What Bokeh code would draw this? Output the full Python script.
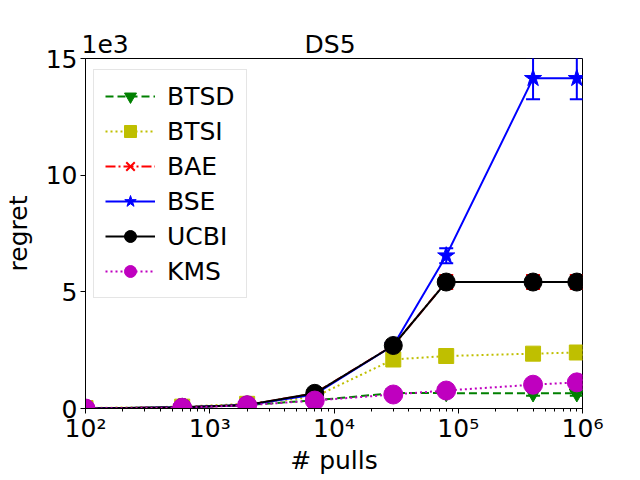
from bokeh.plotting import figure
from bokeh.models import (ColumnDataSource, Legend, LegendItem, FixedTicker, LogTicker,
                          CustomJSTickFormatter, LogAxis)
from bokeh.embed import file_html
from bokeh.resources import INLINE

pulls = [100, 600, 2000, 7000, 30000, 80000, 400000, 900000]
names = ["BTSD", "BTSI", "BAE", "BSE", "UCBI", "KMS"]
regret = {
    "BTSD": [0.0, 0.05, 0.15, 0.35, 0.66, 0.66, 0.65, 0.65],
    "BTSI": [0.02, 0.08, 0.2, 0.5, 2.1, 2.25, 2.35, 2.4],
    "BAE":  [0.0, 0.05, 0.15, 0.65, 2.7, 5.42, 5.42, 5.42],
    "BSE":  [0.0, 0.05, 0.15, 0.6, 2.7, 6.55, 14.15, 14.15],
    "UCBI": [0.0, 0.05, 0.15, 0.65, 2.7, 5.42, 5.42, 5.42],
    "KMS":  [0.0, 0.03, 0.14, 0.34, 0.6, 0.77, 1.02, 1.12],
}
errors = {
    "BTSD": [0.0, 0.01, 0.02, 0.05, 0.15, 0.1, 0.1, 0.1],
    "BTSI": [0.01, 0.02, 0.03, 0.05, 0.1, 0.1, 0.1, 0.1],
    "BAE":  [0.0, 0.01, 0.02, 0.05, 0.2, 0.3, 0.3, 0.3],
    "BSE":  [0.0, 0.01, 0.02, 0.05, 0.1, 0.32, 0.9, 0.9],
    "UCBI": [0.0, 0.01, 0.02, 0.05, 0.1, 0.15, 0.15, 0.15],
    "KMS":  [0.0, 0.01, 0.02, 0.04, 0.08, 0.1, 0.1, 0.1],
}
y_ticks = [0, 5, 10, 15]
title_text = "DS5"
y_scale_text = "1e3"

styles = {
    "BTSD": dict(color="#008000", dash="8 4", marker="inverted_triangle", size=15),
    "BTSI": dict(color="#bfbf00", dash="2 3", marker="square", size=15),
    "BAE":  dict(color="#ff0000", dash="10 3 2 3", marker="x", size=15),
    "BSE":  dict(color="#0000ff", dash="solid", marker="star", size=18),
    "UCBI": dict(color="#000000", dash="solid", marker="circle", size=18),
    "KMS":  dict(color="#bf00bf", dash="2 3", marker="circle", size=19),
}

FONT = "DejaVu Sans"

p = figure(frame_width=497, frame_height=350, x_axis_type="log", x_range=(1e2, 1e6), y_range=(0, 15),
           output_backend="svg", toolbar_location=None,
           min_border_left=72, min_border_right=55, min_border_top=58, min_border_bottom=64)
p.title.visible = False

items = []
for n in names:
    st = styles[n]
    ys = regret[n]
    es = errors[n]
    src = ColumnDataSource(dict(x=pulls, y=ys,
                                lo=[a - b for a, b in zip(ys, es)],
                                hi=[a + b for a, b in zip(ys, es)]))
    p.segment(x0="x", y0="lo", x1="x", y1="hi", source=src, line_color=st["color"], line_width=2)
    p.scatter(x="x", y="lo", source=src, marker="dash", size=14, line_color=st["color"], line_width=2)
    p.scatter(x="x", y="hi", source=src, marker="dash", size=14, line_color=st["color"], line_width=2)
    lr = p.line(x="x", y="y", source=src, line_color=st["color"], line_width=2, line_dash=st["dash"])
    if st["marker"] == "x":
        sr = p.scatter(x="x", y="y", source=src, marker="x", size=st["size"],
                       line_color=st["color"], line_width=2)
    else:
        sr = p.scatter(x="x", y="y", source=src, marker=st["marker"], size=st["size"],
                       fill_color=st["color"], line_color=st["color"], line_width=1)
    items.append(LegendItem(label=n, renderers=[lr, sr]))

legend = Legend(items=items, location=(8, 110))
legend.padding = 11
legend.spacing = 5
legend.glyph_width = 50
legend.glyph_height = 30
legend.label_height = 30
legend.label_standoff = 12
legend.label_text_font = FONT
legend.label_text_font_size = "25px"
legend.label_text_color = "black"
legend.border_line_color = "#cccccc"
legend.border_line_width = 1
legend.background_fill_alpha = 0.8
p.add_layout(legend, "center")

p.xgrid.visible = False
p.ygrid.visible = False
p.outline_line_color = "black"
p.outline_line_width = 1

p.xaxis.ticker = LogTicker(num_minor_ticks=10)
p.xaxis.formatter = CustomJSTickFormatter(code="""
const sup = {'0':'\u2070','1':'\u00b9','2':'\u00b2','3':'\u00b3','4':'\u2074','5':'\u2075','6':'\u2076','7':'\u2077','8':'\u2078','9':'\u2079'};
const e = Math.round(Math.log10(tick));
return '10' + String(e).split('').map(c => sup[c]).join('');
""")
p.yaxis.ticker = FixedTicker(ticks=y_ticks, minor_ticks=[])

for ax in (p.xaxis[0], p.yaxis[0]):
    ax.major_label_text_font = FONT
    ax.major_label_text_font_size = "25px"
    ax.major_label_text_color = "black"
    ax.axis_label_text_font = FONT
    ax.axis_label_text_font_size = "25px"
    ax.axis_label_text_font_style = "normal"
    ax.axis_label_text_color = "black"
    ax.major_tick_in = 0
    ax.major_tick_out = 5
    ax.minor_tick_in = 0
    ax.minor_tick_out = 3
    ax.axis_line_color = "black"
    ax.major_tick_line_color = "black"
    ax.minor_tick_line_color = "black"

p.xaxis.major_label_standoff = 0
p.yaxis.major_label_standoff = 3
p.xaxis.axis_label = "# pulls"
p.yaxis.axis_label = "regret"
p.xaxis.axis_label_standoff = 0
p.yaxis.axis_label_standoff = 10

# top "axis" used only to place the title and the y-scale text above the frame
top = LogAxis(ticker=FixedTicker(ticks=[144, 9300], minor_ticks=[]),
              major_label_overrides={144: y_scale_text, 9300: title_text})
top.axis_line_color = None
top.major_tick_line_color = None
top.minor_tick_line_color = None
top.major_tick_out = 0
top.major_tick_in = 0
top.major_label_standoff = 0
top.major_label_text_font = FONT
top.major_label_text_font_size = "25px"
top.major_label_text_color = "black"
p.add_layout(top, "above")

open("out.html", "w").write(file_html(p, INLINE))
